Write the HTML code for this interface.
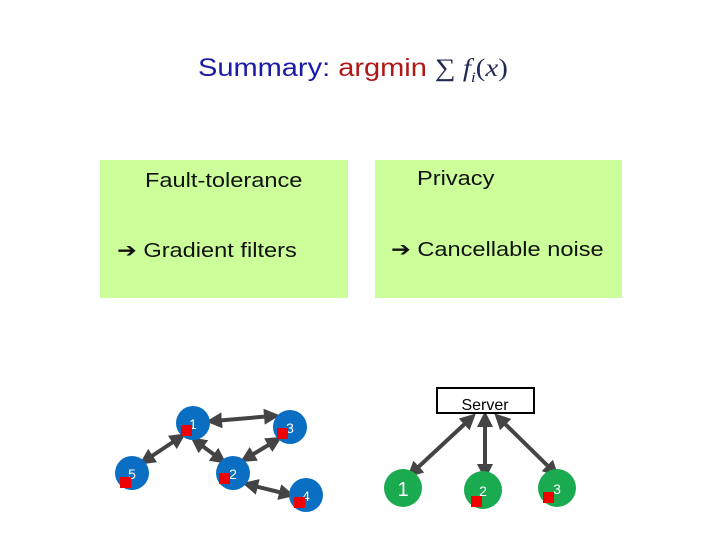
<!DOCTYPE html>
<html><head><style>
body{margin:0;width:720px;height:540px;background:#fff;position:relative;font-family:"Liberation Sans",sans-serif;overflow:hidden}
.t{position:absolute;white-space:nowrap;transform:scaleX(1.18);transform-origin:0 0}
.box{position:absolute;background:#ccff99}
</style></head><body>
<div class="t" style="left:198px;top:54px;font-size:25px;color:#1a1aa8;transform:scaleX(1.16)">Summary: <span style="color:#b01818">argmin</span> <span style="font-family:'Liberation Serif',serif;color:#222a55">∑ <i>f<sub style="font-size:15px">i</sub></i>(<i>x</i>)</span></div>
<div class="box" style="left:100px;top:160px;width:248px;height:138px"></div>
<div class="box" style="left:375px;top:160px;width:247px;height:138px"></div>
<div class="t" style="left:145px;top:170px;font-size:20px;color:#111">Fault-tolerance</div>
<div class="t" style="left:417px;top:168px;font-size:20px;color:#111">Privacy</div>
<div class="t" style="left:117px;top:238px;font-size:20px;color:#111">➔ Gradient filters</div>
<div class="t" style="left:391px;top:237px;font-size:20px;color:#111">➔ Cancellable noise</div>
<svg width="720" height="540" style="position:absolute;left:0;top:0">
<defs><marker id="a" markerWidth="4" markerHeight="4" refX="2" refY="2" orient="auto-start-reverse" markerUnits="strokeWidth"><path d="M0,0L4,2L0,4z" fill="#444"/></marker></defs>
<g stroke="#444" stroke-width="4" marker-start="url(#a)" marker-end="url(#a)">
<line x1="214" y1="421" x2="272" y2="416"/>
<line x1="179" y1="438" x2="146" y2="460"/>
<line x1="197" y1="442" x2="220" y2="459"/>
<line x1="247" y1="458" x2="275" y2="441"/>
<line x1="250" y1="485" x2="287" y2="494"/>
<line x1="470" y1="419" x2="413" y2="472"/>
<line x1="485" y1="419" x2="485" y2="472"/>
<line x1="500" y1="419" x2="553" y2="471"/>
</g>
<g fill="#0a6fc2">
<circle cx="193" cy="423" r="17"/><circle cx="290" cy="427" r="17"/><circle cx="132" cy="473" r="17"/><circle cx="233" cy="473" r="17"/><circle cx="306" cy="495" r="17"/>
</g>
<g fill="#1aaa50">
<circle cx="403" cy="488" r="19"/><circle cx="483" cy="490" r="19"/><circle cx="557" cy="488" r="19"/>
</g>
<g fill="#fff" font-family="Liberation Sans" font-size="14" text-anchor="middle">
<text x="193" y="429">1</text><text x="290" y="433">3</text><text x="132" y="479">5</text><text x="233" y="479">2</text><text x="306" y="501">4</text>
<text x="403" y="496" font-size="20">1</text><text x="483" y="496">2</text><text x="557" y="494">3</text>
</g>
<g fill="#ee0000">
<rect x="181" y="425" width="11" height="11"/><rect x="277" y="428" width="11" height="11"/><rect x="120" y="477" width="11" height="11"/><rect x="219" y="473" width="11" height="11"/><rect x="294" y="497" width="11" height="11"/>
<rect x="471" y="496" width="11" height="11"/><rect x="543" y="492" width="11" height="11"/>
</g>
<rect x="437" y="388" width="97" height="25" fill="#fff" stroke="#000" stroke-width="2"/>
<text x="485" y="410" font-family="Liberation Sans" font-size="16" text-anchor="middle" fill="#000">Server</text>
</svg>
</body></html>
